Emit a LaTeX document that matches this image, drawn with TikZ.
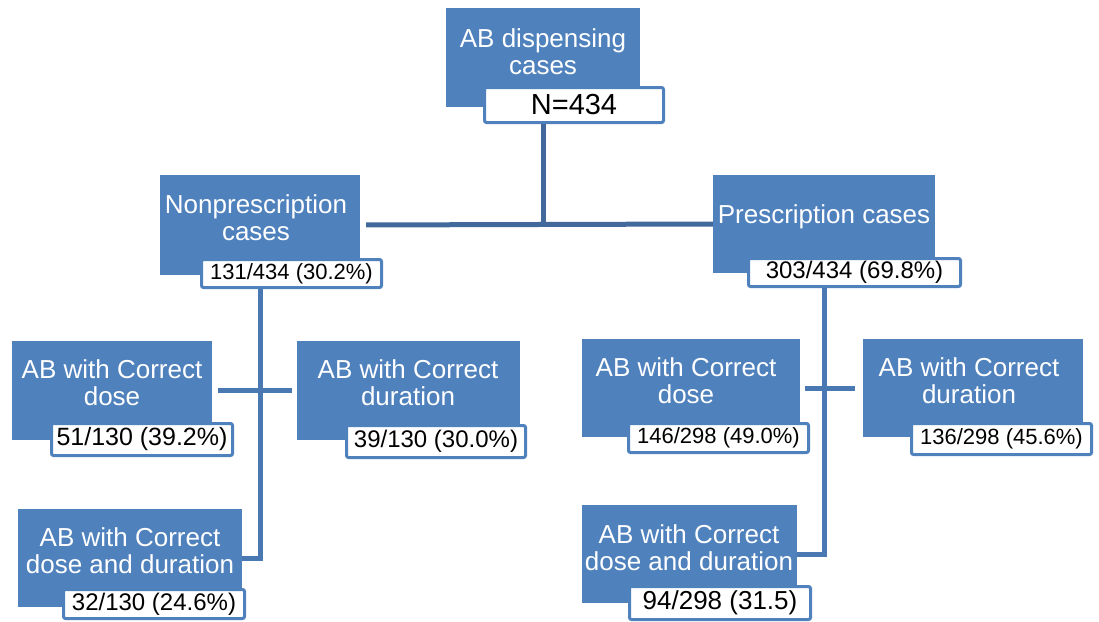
\documentclass[tikz,border=0pt]{standalone}
\usepackage{fontspec}
\setmainfont{Liberation Sans}
\usepackage{xcolor}
\usepackage{tikz}
\usetikzlibrary{
	calc,
	positioning,
	fit
}
\definecolor{boxblue}{HTML}{4F81BD}
\definecolor{linkblue}{HTML}{4A78B2}
\definecolor{toplink}{HTML}{41699C}

\begin{document}
\begin{tikzpicture}[x=1pt, y=-1pt,
		bluebox/.style={fill=boxblue, inner sep=0pt},
		numbox/.style={fill=white, draw=boxblue, line width=3pt, rounded corners=2pt, inner sep=0pt},
		boxtext/.style={text=white, align=center, inner sep=0pt, font=\fontsize{26}{27}\selectfont},
		link/.style={draw=linkblue, line width=5pt}
	]
		\useasboundingbox (0,0) rectangle (1099,621);
		% top
		\node[bluebox, fit={(446,8) (640,107)}] (dispB) {};
		\node[boxtext] (dispT) at (543,52) {AB dispensing\\cases};
		\node[numbox, minimum width=179pt, minimum height=35pt, font=\fontsize{29}{30}\selectfont] (dispN) at (574,105) {N=434};
		% second level
		\node[bluebox, fit={(160,175) (360,275)}] (nonB) {};
		\node[boxtext] (nonT) at (256,218) {Nonprescription\\cases};
		\node[numbox, minimum width=180pt, minimum height=28pt, font=\fontsize{22}{23}\selectfont] (nonN) at (291.5,273.5) {131/434 (30.2\%)};
		\node[bluebox, fit={(713,175) (935,273)}] (preB) {};
		\node[boxtext] (preT) at (824,217) {Prescription cases};
		\node[numbox, minimum width=212pt, minimum height=28pt, font=\fontsize{24}{25}\selectfont] (preN) at (854.5,272.5) {303/434 (69.8\%)};
		% nonprescription branch
		\node[bluebox, fit={(12,341) (212,440)}] (ldoseB) {};
		\node[boxtext] (ldoseT) at (112,383) {AB with Correct\\dose};
		\node[numbox, minimum width=181pt, minimum height=32pt, font=\fontsize{25}{26}\selectfont] (ldoseN) at (142,439.5) {51/130 (39.2\%)};
		\node[bluebox, fit={(297,341) (520,440)}] (ldurB) {};
		\node[boxtext] (ldurT) at (408,383) {AB with Correct\\duration};
		\node[numbox, minimum width=179pt, minimum height=32pt, font=\fontsize{24}{25}\selectfont] (ldurN) at (436,441.5) {39/130 (30.0\%)};
		\node[bluebox, fit={(18,509) (242,607)}] (lbothB) {};
		\node[boxtext] (lbothT) at (130,551) {AB with Correct\\dose and duration};
		\node[numbox, minimum width=181pt, minimum height=29pt, font=\fontsize{24}{25}\selectfont] (lbothN) at (154,604) {32/130 (24.6\%)};
		% prescription branch
		\node[bluebox, fit={(582,339) (800,437)}] (rdoseB) {};
		\node[boxtext] (rdoseT) at (686,381) {AB with Correct\\dose};
		\node[numbox, minimum width=180pt, minimum height=29pt, font=\fontsize{22}{23}\selectfont] (rdoseN) at (718.5,438) {146/298 (49.0\%)};
		\node[bluebox, fit={(863,339) (1083,437)}] (rdurB) {};
		\node[boxtext] (rdurT) at (969,381) {AB with Correct\\duration};
		\node[numbox, minimum width=180pt, minimum height=31pt, font=\fontsize{22}{23}\selectfont] (rdurN) at (1001.5,439) {136/298 (45.6\%)};
		\node[bluebox, fit={(582,505) (797,603)}] (rbothB) {};
		\node[boxtext] (rbothT) at (689,548) {AB with Correct\\dose and duration};
		\node[numbox, minimum width=181pt, minimum height=33pt, font=\fontsize{26}{27}\selectfont] (rbothN) at (720,603) {94/298 (31.5)};
		% connectors
		\draw[link, draw=toplink] (dispN.south -| dispB.center) -- (dispB.center |- nonB.east);
		\draw[link, draw=toplink, shorten <=6pt] (nonB.east) -- (preB.west);
		\draw[link] (nonN.south -| nonB.center) |- (lbothB.east);
		\draw[link, shorten <=6pt, shorten >=5pt] (ldoseB.east) -- (ldurB.west);
		\draw[link] (preN.south -| preB.center) |- (rbothB.east);
		\draw[link, shorten <=5pt, shorten >=8pt] (rdoseB.east) -- (rdurB.west);
\end{tikzpicture}
\end{document}
